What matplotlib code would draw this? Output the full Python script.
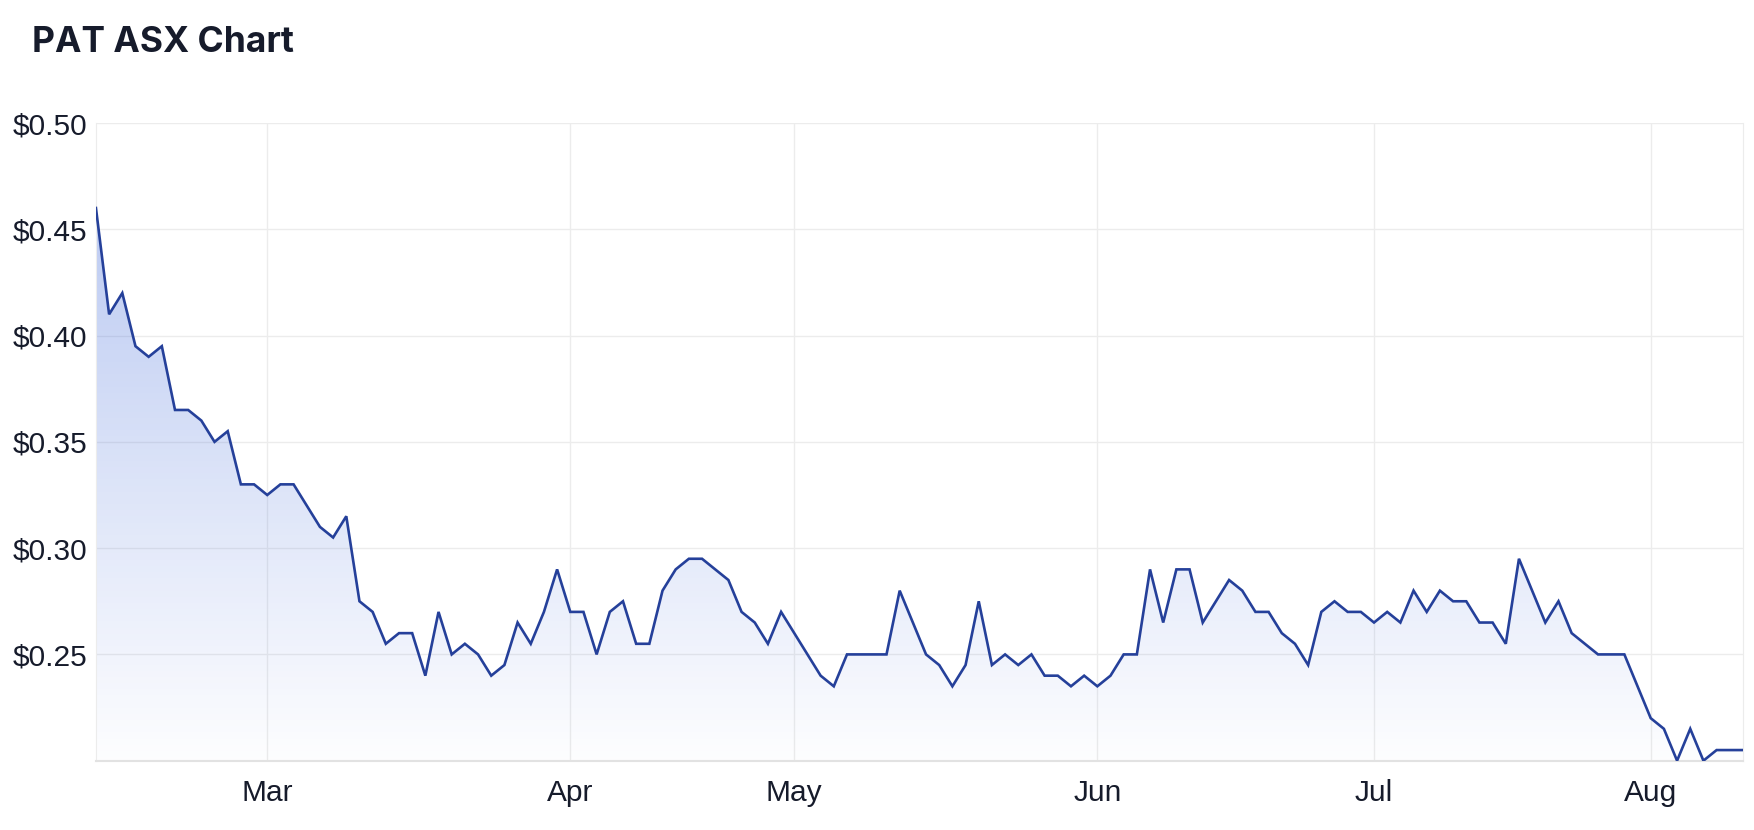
import numpy as np
import pandas as pd
import matplotlib
matplotlib.use("Agg")
import matplotlib.pyplot as plt
from matplotlib.patches import Polygon

# ASX trading days shown on the chart (Feb 10 - Aug 10, 2023)
start_date = "2023-02-10"
end_date = "2023-08-10"
holidays = ["2023-04-07", "2023-04-10", "2023-04-25", "2023-06-12"]

# daily close
prices = [
    0.46, 0.41, 0.42, 0.395, 0.39, 0.395, 0.365, 0.365, 0.36, 0.35,
    0.355, 0.33, 0.33, 0.325, 0.33, 0.33, 0.32, 0.31, 0.305, 0.315,
    0.275, 0.27, 0.255, 0.26, 0.26, 0.24, 0.27, 0.25, 0.255, 0.25,
    0.24, 0.245, 0.265, 0.255, 0.27, 0.29, 0.27, 0.27, 0.25, 0.27,
    0.275, 0.255, 0.255, 0.28, 0.29, 0.295, 0.295, 0.29, 0.285, 0.27,
    0.265, 0.255, 0.27, 0.26, 0.25, 0.24, 0.235, 0.25, 0.25, 0.25,
    0.25, 0.28, 0.265, 0.25, 0.245, 0.235, 0.245, 0.275, 0.245, 0.25,
    0.245, 0.25, 0.24, 0.24, 0.235, 0.24, 0.235, 0.24, 0.25, 0.25,
    0.29, 0.265, 0.29, 0.29, 0.265, 0.275, 0.285, 0.28, 0.27, 0.27,
    0.26, 0.255, 0.245, 0.27, 0.275, 0.27, 0.27, 0.265, 0.27, 0.265,
    0.28, 0.27, 0.28, 0.275, 0.275, 0.265, 0.265, 0.255, 0.295, 0.28,
    0.265, 0.275, 0.26, 0.255, 0.25, 0.25, 0.25, 0.235, 0.22, 0.215,
    0.20, 0.215, 0.20, 0.205, 0.205, 0.205,
]

month_labels = ["Mar", "Apr", "May", "Jun", "Jul", "Aug"]
y_ticks = [0.25, 0.30, 0.35, 0.40, 0.45, 0.50]
y_bottom, y_top = 0.20, 0.50

line_color = "#25409a"
fill_rgb = (0.27, 0.43, 0.86)
grid_color = "#ececec"
text_color = "#161b2b"

dates = pd.bdate_range(start_date, end_date, freq="C", holidays=holidays)
n = len(prices)
x = np.arange(n)
# month tick sits on the first trading day of that month
month_names = dates[:n].strftime("%b")
month_pos = [int(np.argmax(month_names == m)) for m in month_labels]

fig = plt.figure(figsize=(17.54, 8.30), dpi=100)
ax = fig.add_axes([0.0547, 0.0835, 0.9390, 0.7683])

# gradient fill under the line, clipped to the area polygon
ymax = max(prices)
grad = np.linspace(0, 1, 256)
rgba = np.zeros((256, 1, 4))
rgba[:, 0, :3] = fill_rgb
rgba[:, 0, 3] = 0.01 + 0.35 * grad
im = ax.imshow(rgba, extent=[x[0], x[-1], y_bottom, ymax], origin="lower",
               aspect="auto", zorder=1, interpolation="bilinear")
verts = np.vstack([[x[0], y_bottom], np.column_stack([x, prices]), [x[-1], y_bottom]])
clip = Polygon(verts, closed=True, facecolor="none", edgecolor="none", transform=ax.transData)
ax.add_patch(clip)
im.set_clip_path(clip)

ax.plot(x, prices, color=line_color, lw=1.9, zorder=3, solid_joinstyle="miter")

ax.set_xlim(x[0], x[-1])
ax.set_ylim(y_bottom, y_top)
ax.set_xticks(month_pos)
ax.set_xticklabels(month_labels)
ax.set_yticks(y_ticks)
ax.set_yticklabels(["$%.2f" % v for v in y_ticks])

ax.set_axisbelow(True)
ax.grid(True, color=grid_color, lw=1.0)
ax.tick_params(length=0, labelsize=21.5, labelcolor=text_color)
ax.tick_params(axis="y", pad=6)
ax.tick_params(axis="x", pad=13)
for lab in ax.get_xticklabels() + ax.get_yticklabels():
    lab.set_family(["Liberation Sans", "DejaVu Sans"])

ax.spines["top"].set_visible(False)
ax.spines["right"].set_color(grid_color)
ax.spines["left"].set_color(grid_color)
ax.spines["bottom"].set_color("#e2e2e2")
ax.spines["bottom"].set_linewidth(1.5)

fig.text(0.018, 0.937, "PAT ASX Chart", fontsize=25.5, fontweight="bold",
         family=["Inter", "DejaVu Sans"], color=text_color, va="baseline")

fig.savefig("out.png", dpi=100)
